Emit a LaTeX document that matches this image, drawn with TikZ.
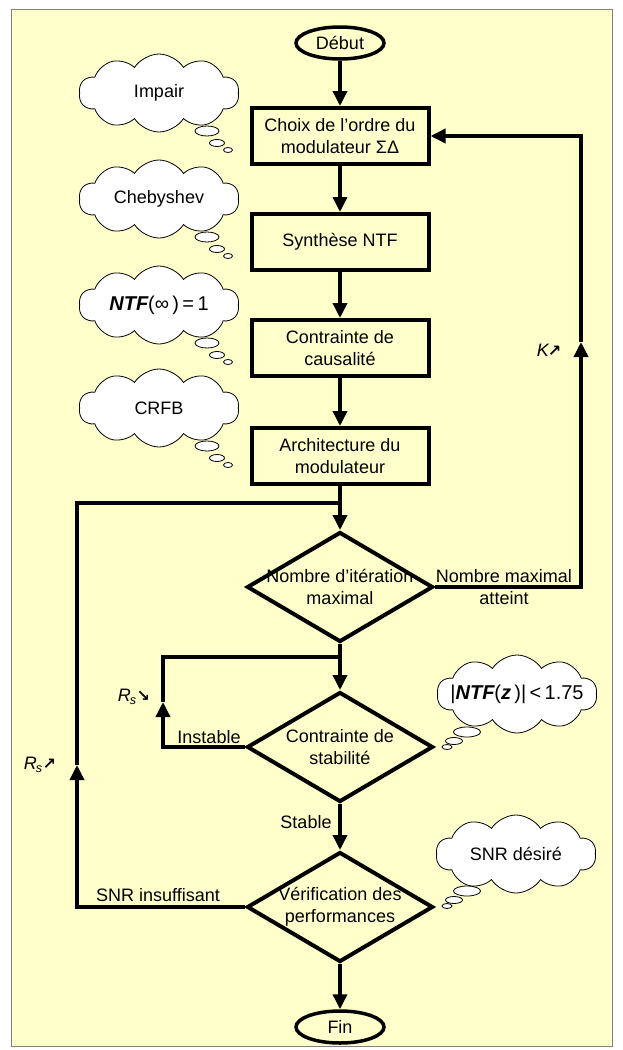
\documentclass[tikz,border=0pt]{standalone}
\usepackage{fontspec}
\setmainfont{Liberation Sans}
\newfontfamily\dejavu{DejaVu Sans}
\usetikzlibrary{shapes.geometric,shapes.symbols,arrows.meta}
\definecolor{bgyellow}{RGB}{255,255,204}
\definecolor{framegray}{RGB}{128,128,128}
\begin{document}
\begin{tikzpicture}[x=1pt,y=-1pt,
  font=\fontsize{18}{22}\selectfont,
  flow/.style={line width=3.5pt,-{Triangle[width=14pt,length=15pt]}},
  plain/.style={line width=3.5pt},
  stepbox/.style={draw,line width=4pt,fill=bgyellow,minimum width=177pt,minimum height=56pt,inner sep=0pt,align=center},
  term/.style={ellipse,draw,line width=3.5pt,fill=bgyellow,minimum width=88pt,minimum height=32pt,inner sep=0pt},
  dia/.style={diamond,draw,line width=4pt,fill=bgyellow,minimum width=186pt,minimum height=110pt,inner sep=0pt},
  cloudy/.style={cloud,cloud puffs=10,cloud puff arc=115,cloud ignores aspect,draw,line width=0.8pt,fill=white,minimum width=160pt,minimum height=78pt,inner sep=0pt},
  bubble/.style={ellipse,draw,line width=0.8pt,fill=white,inner sep=0pt},
  formula/.style={font=\fontsize{20}{24}\selectfont}]
\useasboundingbox (0,0) rectangle (622,1050);
\fill[white] (0,0) rectangle (622,1050);
\draw[framegray,fill=bgyellow,line width=1pt] (11,9) rectangle (612,1046);

% main chain
\node[term] (start) at (340,43) {Début};
\node[stepbox] (b1) at (340,136) {Choix de l’ordre du\\modulateur ΣΔ};
\node[stepbox] (b2) at (340,242) {Synthèse NTF};
\node[stepbox] (b3) at (340,348) {Contrainte de\\causalité};
\node[stepbox] (b4) at (340,456) {Architecture du\\modulateur};
\node[dia,label={[align=center]center:Nombre d’itération\\maximal}] (d1) at (340,587) {};
\node[dia,label={[align=center]center:Contrainte de\\stabilité}] (d2) at (340,747) {};
\node[dia,label={[align=center]center:Vérification des\\performances}] (d3) at (340,907) {};
\node[term] (fin) at (340,1027) {Fin};

\draw[flow] (start) -- (b1);
\draw[flow] (b1) -- (b2);
\draw[flow] (b2) -- (b3);
\draw[flow] (b3) -- (b4);
\draw[flow] (b4) -- (d1);
\draw[flow] (d1) -- (d2);
\draw[flow] (d2) -- (d3);
\draw[flow] (d3) -- (fin);

% right loop
\coordinate (kTip) at (581,342);
\draw[flow] (d1.east) -| (kTip);
\draw[flow] (kTip) |- (b1.east);

% left loops
\coordinate (j1) at (340,503);
\coordinate (rsTip) at (77,765);
\draw[flow] (d3.west) -| (rsTip);
\draw[plain] (rsTip) |- (j1);

\coordinate (j2) at (340,657);
\coordinate (rsTipb) at (163,702);
\draw[flow] (d2.west) -| (rsTipb);
\draw[plain] (rsTipb) |- (j2);

% labels
\node[align=center] (lmax) at (504,587) {Nombre maximal\\atteint};
\node (linst) at (209,737) {Instable};
\node (lstab) at (306,822) {Stable};
\node (lsnr) at (158,895) {SNR insuffisant};
\node (lk) at (549,350) {\itshape K\kern-1pt{\dejavu\bfseries\upshape\fontsize{16}{16}\selectfont ↗}};
\node (lrs1) at (134,697) {\itshape R\kern-1pt\textsubscript{s}{\dejavu\bfseries\upshape\fontsize{16}{16}\selectfont ↘}};
\node (lrs2) at (40,765) {\itshape R\kern-1pt\textsubscript{s}{\dejavu\bfseries\upshape\fontsize{16}{16}\selectfont ↗}};

% clouds left
\node[cloudy,label={center:Impair}] (c1) at (159,93) {};
\node[bubble,minimum width=24pt,minimum height=10pt] (c1a) at (207,131) {};
\node[bubble,minimum width=15pt,minimum height=7pt] (c1b) at (217,143) {};
\node[bubble,minimum width=9pt,minimum height=5pt] (c1c) at (228,150) {};

\node[cloudy,label={center:Chebyshev}] (c2) at (159,199) {};
\node[bubble,minimum width=24pt,minimum height=10pt] (c2a) at (207,237) {};
\node[bubble,minimum width=15pt,minimum height=7pt] (c2b) at (217,249) {};
\node[bubble,minimum width=9pt,minimum height=5pt] (c2c) at (228,256) {};

\node[cloudy,label={[formula]center:{\bfseries\itshape NTF}(∞\,)\,=\,1}] (c3) at (159,305) {};
\node[bubble,minimum width=24pt,minimum height=10pt] (c3a) at (207,343) {};
\node[bubble,minimum width=15pt,minimum height=7pt] (c3b) at (217,355) {};
\node[bubble,minimum width=9pt,minimum height=5pt] (c3c) at (228,362) {};

\node[cloudy,label={center:CRFB}] (c4) at (159,408) {};
\node[bubble,minimum width=24pt,minimum height=10pt] (c4a) at (207,446) {};
\node[bubble,minimum width=15pt,minimum height=7pt] (c4b) at (217,458) {};
\node[bubble,minimum width=9pt,minimum height=5pt] (c4c) at (228,465) {};

% clouds right
\node[cloudy,label={[formula]center:|{\bfseries\itshape NTF}({\bfseries\itshape z}\,)|\,<\,1.75}] (c5) at (517,694) {};
\node[bubble,minimum width=27pt,minimum height=10pt] (c5a) at (467,732) {};
\node[bubble,minimum width=17pt,minimum height=7pt] (c5b) at (454,741) {};
\node[bubble,minimum width=10pt,minimum height=5pt] (c5c) at (447,747) {};

\node[cloudy,label={center:SNR désiré}] (c6) at (516,854) {};
\node[bubble,minimum width=27pt,minimum height=10pt] (c6a) at (467,891) {};
\node[bubble,minimum width=17pt,minimum height=7pt] (c6b) at (454,900) {};
\node[bubble,minimum width=10pt,minimum height=5pt] (c6c) at (447,906) {};
\end{tikzpicture}
\end{document}
